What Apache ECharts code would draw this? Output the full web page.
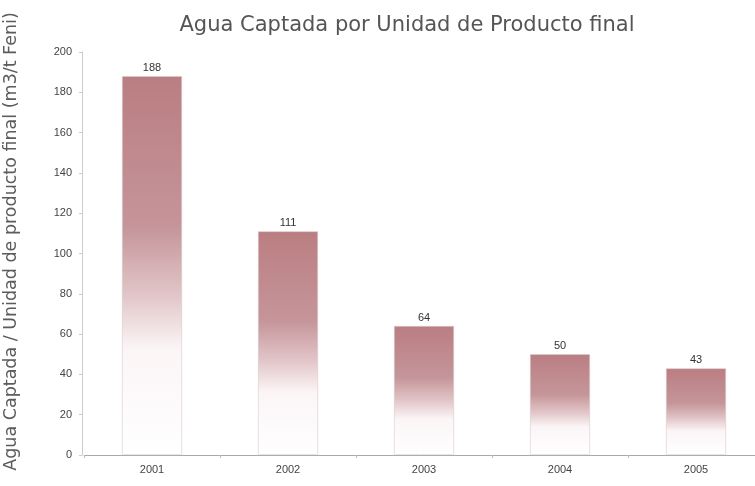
<!DOCTYPE html>
<html>
<head>
<meta charset="utf-8">
<script src="https://cdn.jsdelivr.net/npm/echarts@6/dist/echarts.min.js"></script>
<style>
  html, body { margin: 0; padding: 0; background: #fff; }
  #chart { width: 755px; height: 486px; }
</style>
</head>
<body>
<div id="chart"></div>
<script>
var years = ['2001', '2002', '2003', '2004', '2005'];
var aguaCaptada = [188, 111, 64, 50, 43];
var yTicks = { min: 0, max: 200, interval: 20 };

var chart = echarts.init(document.getElementById('chart'));

var fontFam = '"Liberation Sans", "DejaVu Sans", sans-serif';
var wideFam = '"DejaVu Sans", sans-serif';

var option = {
  backgroundColor: '#ffffff',
  animation: false,
  title: {
    text: 'Agua Captada por Unidad de Producto final',
    left: 402,
    textAlign: 'center',
    top: 10,
    textStyle: { fontFamily: wideFam, fontSize: 21, fontWeight: 'normal', color: '#555' }
  },
  grid: { left: 84, top: 52, right: -9, bottom: 31, outerBoundsMode: 'none' },
  xAxis: {
    type: 'category',
    data: years,
    axisLine: { lineStyle: { color: '#aaa', width: 1 } },
    axisTick: { show: true, alignWithLabel: false, length: 3, lineStyle: { color: '#bbb' } },
    axisLabel: { fontFamily: fontFam, fontSize: 11, color: '#444', margin: 9 }
  },
  yAxis: {
    type: 'value',
    min: yTicks.min,
    max: yTicks.max,
    interval: yTicks.interval,
    offset: 2,
    name: 'Agua Captada / Unidad de producto final (m3/t Feni)',
    nameLocation: 'middle',
    nameGap: 62,
    nameTextStyle: { fontFamily: wideFam, fontSize: 17.5, color: '#5c5c5c', padding: [0, 0, 0, 24] },
    axisLine: { show: true, lineStyle: { color: '#ccc' } },
    axisTick: { show: true, length: 3, lineStyle: { color: '#ccc' } },
    splitLine: { show: false },
    axisLabel: { fontFamily: fontFam, fontSize: 11, color: '#444', margin: 10 }
  },
  series: [{
    type: 'bar',
    data: aguaCaptada,
    barWidth: 60,
    itemStyle: {
      color: new echarts.graphic.LinearGradient(0, 0, 0, 1, [
        { offset: 0, color: '#ba7e82' },
        { offset: 0.4, color: '#c5959a' },
        { offset: 0.58, color: '#e2c6c9' },
        { offset: 0.72, color: '#fbf5f6' },
        { offset: 1, color: '#ffffff' }
      ]),
      borderColor: '#d9c9cb',
      borderWidth: 0.6
    },
    label: {
      show: true,
      position: 'top',
      distance: 3,
      fontFamily: fontFam,
      fontSize: 11,
      color: '#333'
    }
  }]
};

chart.setOption(option);
</script>
</body>
</html>
